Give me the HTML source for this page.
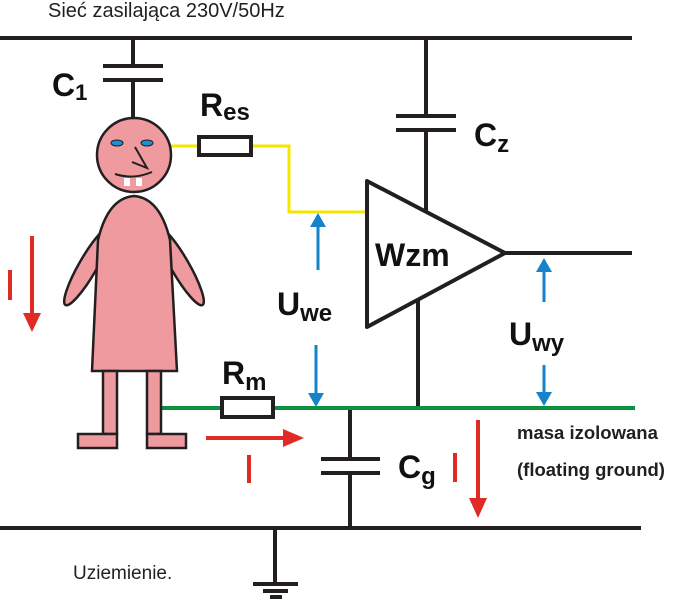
<!DOCTYPE html>
<html><head><meta charset="utf-8"><style>
body{margin:0;background:#fff}
svg{display:block}
text{font-family:"Liberation Sans",sans-serif}
.b{font-weight:bold;font-size:32px;fill:#111}
</style></head><body>
<svg width="694" height="600" viewBox="0 0 694 600" xmlns="http://www.w3.org/2000/svg">
<g stroke="#231f20" stroke-width="4" fill="none">
<line x1="0" y1="38" x2="632" y2="38"/>
<line x1="0" y1="528" x2="641" y2="528"/>
<line x1="133" y1="38" x2="133" y2="66"/><line x1="133" y1="80" x2="133" y2="118"/>
<line x1="103" y1="66" x2="163" y2="66"/><line x1="103" y1="80" x2="163" y2="80"/>
<line x1="426" y1="38" x2="426" y2="116"/><line x1="426" y1="130" x2="426" y2="215"/>
<line x1="396" y1="116" x2="456" y2="116"/><line x1="396" y1="130" x2="456" y2="130"/>
<line x1="505" y1="253" x2="632" y2="253"/>
<line x1="418" y1="300" x2="418" y2="408"/>
<line x1="350" y1="408" x2="350" y2="459"/><line x1="350" y1="473" x2="350" y2="528"/>
<line x1="321" y1="459" x2="380" y2="459"/><line x1="321" y1="473" x2="380" y2="473"/>
<line x1="275" y1="528" x2="275" y2="584"/>
<line x1="253" y1="584" x2="298" y2="584"/><line x1="263" y1="591" x2="288" y2="591"/><line x1="270" y1="597" x2="282" y2="597"/>
</g>
<polyline points="171,146 199,146" stroke="#f5e600" stroke-width="3" fill="none"/>
<polyline points="251,146 289,146 289,212 367,212" stroke="#f5e600" stroke-width="3" fill="none"/>
<rect x="199" y="137" width="52" height="18" fill="#fff" stroke="#231f20" stroke-width="4"/>
<line x1="160" y1="408" x2="635" y2="408" stroke="#0a9240" stroke-width="4"/>
<rect x="222" y="398" width="51" height="19" fill="#fff" stroke="#231f20" stroke-width="4"/>
<polygon points="367,181 367,327 505,253" fill="#fff" stroke="#231f20" stroke-width="4" stroke-linejoin="round"/>
<g fill="#ef9a9f" stroke="#231f20" stroke-width="2.5">
<ellipse cx="88" cy="266" rx="9" ry="45" transform="rotate(30 88 266)"/>
<ellipse cx="180" cy="266" rx="9" ry="45" transform="rotate(-30 180 266)"/>
<path d="M92,371 L177,371 L170,240 Q160,198 134,196 Q108,198 98,240 Z"/>
<rect x="103" y="371" width="14" height="63"/><rect x="147" y="371" width="14" height="63"/>
<rect x="78" y="434" width="39" height="14"/><rect x="147" y="434" width="39" height="14"/>
<circle cx="134" cy="155" r="37"/>
</g>
<ellipse cx="117" cy="143" rx="6" ry="3" fill="#1c8fd8" stroke="#231f20" stroke-width="1"/>
<ellipse cx="147" cy="143" rx="6" ry="3" fill="#1c8fd8" stroke="#231f20" stroke-width="1"/>
<polyline points="135,147 147,168 132,162" fill="none" stroke="#231f20" stroke-width="2"/>
<path d="M115,174 Q133,180 152,172" fill="none" stroke="#231f20" stroke-width="2"/>
<rect x="124" y="178" width="6" height="8" fill="#fff"/><rect x="136" y="178" width="6" height="8" fill="#fff"/>
<g stroke="#1582c9" stroke-width="3" fill="#1582c9">
<line x1="318" y1="270" x2="318" y2="225"/><polygon points="310,227 326,227 318,213" stroke="none"/>
<line x1="316" y1="345" x2="316" y2="395"/><polygon points="308,393 324,393 316,407" stroke="none"/>
<line x1="544" y1="302" x2="544" y2="270"/><polygon points="536,272 552,272 544,258" stroke="none"/>
<line x1="544" y1="365" x2="544" y2="394"/><polygon points="536,392 552,392 544,406" stroke="none"/>
</g>
<g stroke="#e02a26" stroke-width="4" fill="#e02a26">
<line x1="32" y1="236" x2="32" y2="315"/><polygon points="23,313 41,313 32,332" stroke="none"/>
<line x1="10" y1="270" x2="10" y2="300"/>
<line x1="206" y1="438" x2="285" y2="438"/><polygon points="283,429 283,447 304,438" stroke="none"/>
<line x1="249" y1="455" x2="249" y2="483"/>
<line x1="455" y1="453" x2="455" y2="482"/>
<line x1="478" y1="420" x2="478" y2="500"/><polygon points="469,498 487,498 478,518" stroke="none"/>
</g>
<text x="48" y="17" font-size="20" fill="#231f20">Sieć zasilająca 230V/50Hz</text>
<text x="52" y="96" class="b">C<tspan font-size="22" dy="4">1</tspan></text>
<text x="200" y="116" class="b">R<tspan font-size="24" dy="4">es</tspan></text>
<text x="474" y="146" class="b">C<tspan font-size="24" dy="6">z</tspan></text>
<text x="375" y="266" class="b">Wzm</text>
<text x="277" y="315" class="b">U<tspan font-size="24" dy="6">we</tspan></text>
<text x="222" y="384" class="b">R<tspan font-size="24" dy="6">m</tspan></text>
<text x="509" y="345" class="b">U<tspan font-size="24" dy="6">wy</tspan></text>
<text x="398" y="478" class="b">C<tspan font-size="24" dy="6">g</tspan></text>
<text x="517" y="439" font-size="18.5" font-weight="bold" fill="#231f20">masa izolowana</text>
<text x="517" y="476" font-size="18.5" font-weight="bold" fill="#231f20">(floating ground)</text>
<text x="73" y="579" font-size="19" fill="#231f20">Uziemienie.</text>
</svg>
</body></html>
